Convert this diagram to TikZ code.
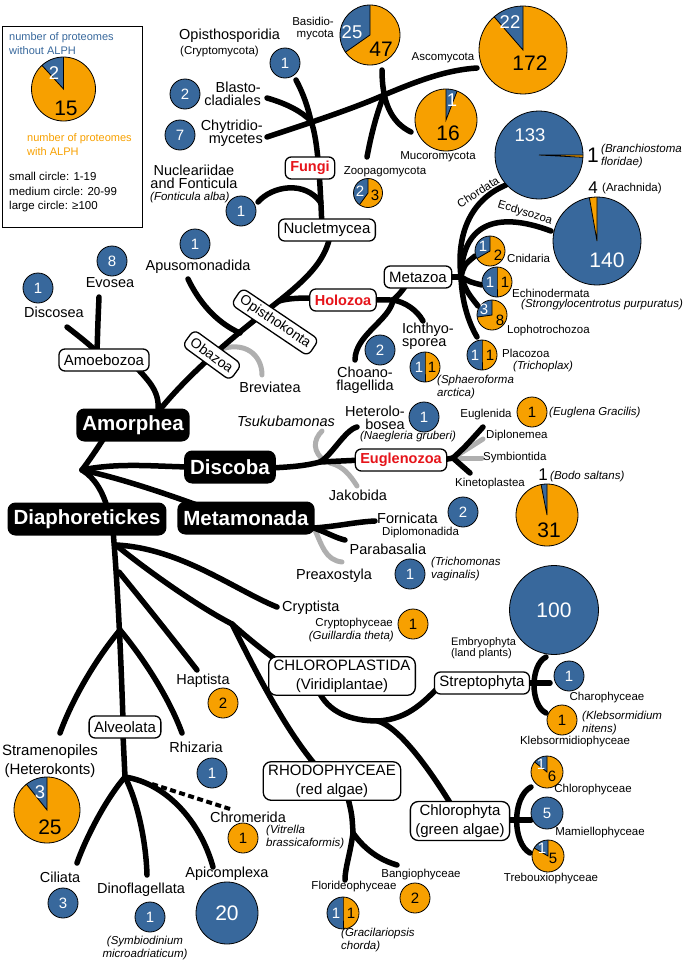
\documentclass[tikz,border=0pt]{standalone}
\usepackage{fontspec}
\setmainfont{Liberation Sans}
\usetikzlibrary{positioning}
\definecolor{pblue}{RGB}{56,104,156}
\definecolor{porange}{RGB}{247,160,0}
\definecolor{pgray}{RGB}{175,175,175}
\definecolor{pred}{RGB}{230,20,26}

\newcommand{\ppie}[5]{%
  \coordinate (#1) at (#2);
  \fill[porange] (#1) circle[radius=#3pt];
  \fill[pblue] (#1) -- ++(#4:#3pt) arc[start angle=#4, end angle=#5, radius=#3pt] -- cycle;
  \draw[pline] (#1) ++(#4:#3pt) -- (#1) -- ++(#5:#3pt);
  \draw[pline] (#1) circle[radius=#3pt];}
\newcommand{\bpie}[5]{%
  \coordinate (#1) at (#2);
  \fill[pblue] (#1) circle[radius=#3pt];
  \fill[porange] (#1) -- ++(#4:#3pt) arc[start angle=#4, end angle=#5, radius=#3pt] -- cycle;
  \draw[pline] (#1) ++(#4:#3pt) -- (#1) -- ++(#5:#3pt);
  \draw[pline] (#1) circle[radius=#3pt];}

\begin{document}
\begin{tikzpicture}[x=1pt, y=1pt,
  br/.style={line width=5.5pt, line cap=round},
  gbr/.style={line width=5pt, line cap=round, draw=pgray},
  pline/.style={line width=0.8pt},
  blk/.style={fill=black, text=white, rounded corners=8pt, inner xsep=6pt, minimum height=33pt, font=\bfseries\fontsize{20.5}{22}\selectfont},
  wbox/.style={draw, fill=white, line width=1.3pt, rounded corners=6pt, inner xsep=5pt, inner ysep=3pt, minimum height=22pt, align=center, font=\fontsize{15}{19}\selectfont},
  redt/.style={text=pred, font=\bfseries\fontsize{14.5}{16}\selectfont},
  lab/.style={inner sep=0pt, align=center, font=\fontsize{14.5}{13.5}\selectfont},
  slab/.style={inner sep=0pt, align=center, font=\fontsize{11.5}{12}\selectfont},
  ilab/.style={inner sep=0pt, font=\itshape\fontsize{11.5}{12.5}\selectfont},
  bc/.style={circle, draw, line width=0.8pt, fill=pblue, text=white, minimum size=30pt, inner sep=0pt, font=\fontsize{15}{15}\selectfont},
  oc/.style={bc, fill=porange, text=black},
  swnum/.style={inner sep=0pt, text=white, font=\fontsize{15}{15}\selectfont},
  sknum/.style={inner sep=0pt, font=\fontsize{15}{15}\selectfont},
  wnum/.style={inner sep=0pt, text=white, font=\fontsize{18.5}{18.5}\selectfont},
  knum/.style={inner sep=0pt, font=\fontsize{21}{21}\selectfont},
  onum/.style={inner sep=0pt, font=\fontsize{17}{17}\selectfont}]
\useasboundingbox (0,0) rectangle (685,-961);

\coordinate (jF) at (311,-121);
\coordinate (opisE) at (296,-80);
\coordinate (blaE) at (267,-98);
\coordinate (chyE) at (267,-137);
\coordinate (xF) at (384,-95);
\coordinate (ascE) at (477,-68);
\coordinate (basE) at (382,-70);
\coordinate (mucE) at (411,-132);
\coordinate (zooE) at (367,-157);
\coordinate (nucE) at (258,-202);
\coordinate (jN) at (321,-203);
\coordinate (nuclT) at (322,-228);
\coordinate (nuclB) at (330,-236);
\coordinate (amT) at (158,-412);
\coordinate (jOp) at (279,-301);
\coordinate (apuE) at (188,-279);
\coordinate (jApu) at (240,-333);
\coordinate (disE) at (67,-327);
\coordinate (evoE) at (99,-297);
\coordinate (jAmo) at (97,-352);
\coordinate (amoB) at (135,-366);
\coordinate (brevS) at (218,-350);
\coordinate (brevE) at (262,-375);
\coordinate (jHol) at (393,-300);
\coordinate (mzB) at (408,-282);
\coordinate (choE) at (355,-360);
\coordinate (ichE) at (423,-321);
\coordinate (mzE) at (452,-277);
\coordinate (jMz) at (461,-277);
\coordinate (chdE) at (506,-185);
\coordinate (ecdE) at (551,-231);
\coordinate (cniE) at (475,-256);
\coordinate (echE) at (482,-285);
\coordinate (lopE) at (478,-306);
\coordinate (plaE) at (477,-337);

\coordinate (root) at (82,-470);
\coordinate (amB) at (104,-438);
\coordinate (disW) at (195,-467);
\coordinate (metW) at (205,-508);
\coordinate (diaT) at (108,-510);
\coordinate (disE2) at (270,-468);
\coordinate (jDis) at (320,-462);
\coordinate (hetE) at (357,-427);
\coordinate (eugW) at (362,-460);
\coordinate (tsuS) at (326,-462);
\coordinate (tsuE) at (322,-431);
\coordinate (jakS) at (330,-463);
\coordinate (jakE) at (357,-486);
\coordinate (eugE) at (442,-460);
\coordinate (jEu) at (453,-458);
\coordinate (eglE) at (483,-427);
\coordinate (dipE) at (483,-439);
\coordinate (symE) at (482,-458);
\coordinate (kinE) at (470,-473);
\coordinate (jMt) at (314,-528);
\coordinate (forE) at (375,-521);
\coordinate (parE) at (345,-540);
\coordinate (preE) at (342,-562);

\coordinate (dT) at (113,-530);
\coordinate (alvT) at (123,-720);
\coordinate (jD1) at (116,-545);
\coordinate (cryE) at (277,-607);
\coordinate (jCR) at (232,-624);
\coordinate (chlT) at (282,-664);
\coordinate (rhoT) at (318,-768);
\coordinate (chlB) at (318,-690);
\coordinate (jCh) at (378,-721);
\coordinate (strW) at (442,-684);
\coordinate (chpT) at (452,-806);
\coordinate (jD2) at (119,-572);
\coordinate (hapE) at (197,-670);
\coordinate (jD3) at (120,-630);
\coordinate (straE) at (60,-733);
\coordinate (rhiE) at (182,-733);
\coordinate (alvB) at (123,-735);
\coordinate (jAl) at (125,-777);
\coordinate (cilE) at (77,-863);
\coordinate (dinE) at (147,-875);
\coordinate (apiE) at (213,-867);
\coordinate (chrS) at (152,-784);
\coordinate (chrE) at (230,-809);
\coordinate (rhoB) at (348,-798);
\coordinate (jRh) at (353,-833);
\coordinate (floE) at (345,-880);
\coordinate (banE) at (397,-865);
\coordinate (stE) at (525,-683);
\coordinate (sbM) at (550,-683);
\coordinate (sbT) at (546,-657);
\coordinate (sbB) at (546,-713);
\coordinate (cpE) at (508,-820);
\coordinate (cbM) at (531,-820);
\coordinate (cbT) at (531,-787);
\coordinate (cbB) at (530,-853);

\draw[gbr] (brevS) .. controls (245,-340) and (262,-355) .. (brevE);
\draw[gbr] (tsuS) .. controls (312,-452) and (313,-440) .. (tsuE);
\draw[gbr] (jakS) .. controls (343,-466) and (350,-475) .. (jakE);
\draw[gbr] (jEu) .. controls (468,-448) .. (dipE);
\draw[gbr] (jEu) -- (symE);
\draw[gbr] (jMt) .. controls (322,-545) and (325,-560) .. (preE);

\draw[br] (nuclT) .. controls (320,-180) and (318,-140) .. (jF);
\draw[br] (opisE) .. controls (304,-95) and (308,-108) .. (jF);
\draw[br] (blaE) .. controls (288,-104) and (302,-112) .. (jF);
\draw[br] (chyE) .. controls (300,-126) and (350,-110) .. (xF) .. controls (415,-82) and (445,-70) .. (ascE);
\draw[br] (basE) .. controls (382,-100) and (390,-122) .. (mucE);
\draw[br] (zooE) .. controls (372,-130) and (378,-110) .. (xF);
\draw[br] (nucE) .. controls (272,-186) and (305,-180) .. (jN);
\draw[br] (amT) .. controls (190,-372) and (235,-335) .. (jOp) .. controls (305,-280) and (325,-262) .. (nuclB);
\draw[br] (apuE) .. controls (198,-300) and (215,-322) .. (jApu);
\draw[br] (disE) .. controls (80,-337) and (90,-345) .. (jAmo);
\draw[br] (evoE) .. controls (98,-320) .. (jAmo);
\draw[br] (amoB) .. controls (150,-382) and (160,-392) .. (amT);
\draw[br] (jOp) .. controls (300,-295) and (330,-300) .. (jHol);
\draw[br] (jHol) .. controls (398,-296) and (403,-290) .. (mzB);
\draw[br] (jHol) .. controls (390,-320) and (355,-335) .. (choE);
\draw[br] (jHol) .. controls (405,-302) and (417,-310) .. (ichE);
\draw[br] (mzE) -- (jMz);
\draw[br] (jMz) .. controls (456,-235) and (470,-200) .. (chdE);
\draw[br] (jMz) .. controls (462,-225) and (495,-210) .. (ecdE);
\draw[br] (jMz) .. controls (464,-265) .. (cniE);
\draw[br] (jMz) .. controls (470,-282) .. (echE);
\draw[br] (jMz) .. controls (467,-292) .. (lopE);
\draw[br] (jMz) .. controls (462,-305) and (470,-325) .. (plaE);

\draw[br] (amB) .. controls (95,-452) and (88,-462) .. (root);
\draw[br] (root) .. controls (120,-462) and (160,-467) .. (disW);
\draw[br] (root) .. controls (120,-478) and (170,-495) .. (metW);
\draw[br] (root) .. controls (95,-478) and (103,-492) .. (diaT);
\draw[br] (disE2) .. controls (290,-467) and (305,-466) .. (jDis);
\draw[br] (jDis) .. controls (332,-455) and (345,-430) .. (hetE);
\draw[br] (jDis) -- (eugW);
\draw[br] (eugE) -- (jEu);
\draw[br] (jEu) .. controls (465,-447) .. (eglE);
\draw[br] (jEu) .. controls (462,-466) .. (kinE);
\draw[br] (jMt) .. controls (340,-526) and (355,-522) .. (forE);
\draw[br] (jMt) .. controls (328,-533) and (336,-538) .. (parE);

\draw[br] (dT) .. controls (118,-590) and (121,-660) .. (alvT);
\draw[br] (jD1) .. controls (180,-548) and (235,-590) .. (cryE);
\draw[br] (jD1) .. controls (140,-565) and (195,-605) .. (jCR);
\draw[br] (jCR) .. controls (250,-640) and (265,-652) .. (chlT);
\draw[br] (jCR) .. controls (255,-670) and (285,-730) .. (rhoT);
\draw[br] (chlB) .. controls (328,-712) and (350,-721) .. (jCh);
\draw[br] (jCh) .. controls (410,-719) and (425,-700) .. (strW);
\draw[br] (jCh) .. controls (400,-728) and (430,-770) .. (chpT);
\draw[br] (jD2) .. controls (150,-610) and (180,-648) .. (hapE);
\draw[br] (jD3) .. controls (95,-660) and (72,-700) .. (straE);
\draw[br] (jD3) .. controls (145,-660) and (170,-700) .. (rhiE);
\draw[br] (alvB) -- (jAl);
\draw[br] (jAl) .. controls (105,-800) and (85,-840) .. (cilE);
\draw[br] (jAl) .. controls (137,-800) and (146,-840) .. (dinE);
\draw[br] (jAl) .. controls (165,-783) and (200,-820) .. (apiE);
\draw[line width=4pt, dash pattern=on 6pt off 3.5pt] (chrS) -- (chrE);
\draw[br] (rhoB) .. controls (352,-815) .. (jRh);
\draw[br] (jRh) .. controls (350,-855) and (345,-868) .. (floE);
\draw[br] (jRh) .. controls (365,-850) and (380,-860) .. (banE);
\draw[br] (stE) -- (sbM);
\draw[br] (sbT) .. controls (530,-665) and (530,-705) .. (sbB);
\draw[br] (cpE) -- (cbM);
\draw[br] (cbT) .. controls (512,-797) and (512,-843) .. (cbB);

\node[draw, line width=1pt, minimum width=140pt, minimum height=201pt, inner sep=0pt] (legend) at (72,-126.5) {};
\node[anchor=west, inner sep=0pt, align=left, text=pblue, font=\fontsize{11}{14}\selectfont] (lgNo) at (9,-44) {number of proteomes\\without ALPH};
\ppie{lgPie}{63.5,-89}{32}{90}{132.4}
\node[wnum] (lgN1) at (54,-73) {2};
\node[knum] (lgN2) at (66,-108) {15};
\node[anchor=west, inner sep=0pt, align=left, text=porange, font=\fontsize{11}{14}\selectfont] (lgYes) at (27,-145) {number of proteomes\\with ALPH};
\node[anchor=west, inner sep=0pt, align=left, font=\fontsize{11.5}{14.5}\selectfont] (lgSize) at (9,-192.5) {small circle: 1-19\\medium circle: 20-99\\large circle: ≥100};

\node[lab, anchor=west] (opisL) at (179,-36) {Opisthosporidia};
\node[slab, anchor=west] (opisS) at (180,-52) {(Cryptomycota)};
\node[bc] (cOpis) at (285,-63) {1};
\node[lab, anchor=east, align=right] (blaL) at (261,-94) {Blasto-\\cladiales};
\node[bc] (cBla) at (185,-94) {2};
\node[lab, anchor=east, align=right] (chyL) at (263,-133) {Chytridio-\\mycetes};
\node[bc] (cChy) at (180,-135) {7};
\node[lab] (nucL) at (194,-177) {Nucleariidae\\and Fonticula};
\node[ilab, anchor=west] (nucS) at (150,-198) {(Fonticula alba)};
\node[bc] (cNuc) at (241,-211) {1};
\node[slab, anchor=east, align=right] (basL) at (334,-29) {Basidio-\\mycota};
\ppie{basP}{370,-35}{30}{90}{215}
\node[wnum] (basN1) at (352,-32) {25};
\node[knum] (basN2) at (381,-49) {47};
\node[slab] (ascL) at (443,-58) {Ascomycota};
\ppie{ascP}{523,-50}{44}{90}{131}
\node[wnum] (ascN1) at (510,-22) {22};
\node[knum] (ascN2) at (530,-63) {172};
\ppie{mucP}{446,-120}{31}{69}{90}
\node[wnum] (mucN1) at (452,-100) {1};
\node[knum] (mucN2) at (448,-133) {16};
\node[slab] (mucL) at (438,-157) {Mucoromycota};
\node[slab] (zooL) at (385,-172) {Zoopagomycota};
\ppie{zooP}{368,-193}{14.5}{90}{234}
\node[swnum] (zooN1) at (360,-191) {2};
\node[sknum] (zooN2) at (375,-195) {3};
\node[wbox, redt] (Fungi) at (310,-168) {Fungi};
\node[wbox] (Nucletmycea) at (327,-230) {Nucletmycea};

\node[bc] (cApu) at (195,-244) {1};
\node[lab] (apuL) at (198,-267) {Apusomonadida};
\node[bc] (cDis) at (38,-288) {1};
\node[lab] (disL) at (54,-312) {Discosea};
\node[bc] (cEvo) at (112,-261) {8};
\node[lab] (evoL) at (110,-283) {Evosea};
\node[wbox] (Amoebozoa) at (104,-360) {Amoebozoa};
\node[wbox, rotate=-36, minimum height=20pt, font=\fontsize{14}{14}\selectfont] (Obazoa) at (212,-355) {Obazoa};
\node[wbox, rotate=-34, minimum height=20pt, font=\fontsize{14}{14}\selectfont] (Opisthokonta) at (275,-322) {Opisthokonta};
\node[lab] (brevL) at (270,-387) {Breviatea};
\node[wbox, redt] (Holozoa) at (343,-300) {Holozoa};
\node[wbox] (Metazoa) at (418,-277) {Metazoa};
\node[bc] (cCho) at (380,-350) {2};
\node[lab] (choL) at (365,-380) {Choano-\\flagellida};
\node[lab, anchor=west, align=left] (ichL) at (402,-336) {Ichthyo-\\sporea};
\ppie{ichP}{425,-367}{15}{90}{270}
\node[swnum] (ichN1) at (419,-367) {1};
\node[sknum] (ichN2) at (432,-367) {1};
\node[ilab, anchor=west, align=left] (ichS) at (437,-387) {(Sphaeroforma\\arctica)};

\node[slab, rotate=33] (chdL) at (478,-192) {Chordata};
\node[slab, rotate=-17] (ecdL) at (525,-213) {Ecdysozoa};
\bpie{chdP}{539,-155}{44}{-3}{0}
\node[wnum] (chdN1) at (530,-135) {133};
\node[knum] (chdN2) at (593,-155) {1};
\node[ilab, anchor=west, align=left] (chdS) at (601,-156) {(Branchiostoma\\floridae)};
\bpie{ecdP}{597,-241}{44}{90}{100}
\node[wnum, font=\fontsize{21}{21}\selectfont] (ecdN1) at (607,-260) {140};
\node[onum] (ecdN2) at (593,-188) {4};
\node[slab, anchor=west] (ecdS) at (602,-189) {(Arachnida)};
\ppie{cniP}{490,-251}{15}{90}{210}
\node[swnum] (cniN1) at (483,-246) {1};
\node[sknum] (cniN2) at (498,-255) {2};
\node[slab, anchor=west] (cniL) at (507,-258) {Cnidaria};
\ppie{echP}{497,-282}{15}{90}{270}
\node[swnum] (echN1) at (490,-282) {1};
\node[sknum] (echN2) at (505,-282) {1};
\node[slab, anchor=west] (echL) at (512,-293) {Echinodermata};
\node[ilab, anchor=west] (echS) at (521,-305) {(Strongylocentrotus purpuratus)};
\ppie{lopP}{492,-315}{15}{90}{188}
\node[swnum] (lopN1) at (484,-309) {3};
\node[sknum] (lopN2) at (500,-320) {8};
\node[slab, anchor=west] (lopL) at (507,-331) {Lophotrochozoa};
\ppie{plaP}{482,-355}{15}{90}{270}
\node[swnum] (plaN1) at (475,-355) {1};
\node[sknum] (plaN2) at (490,-355) {1};
\node[slab, anchor=west] (plaL) at (502,-353) {Placozoa};
\node[ilab, anchor=west] (plaS) at (513,-367) {(Trichoplax)};

\node[blk] (Amorphea) at (133,-425) {Amorphea};
\node[blk] (Discoba) at (230,-467) {Discoba};
\node[blk] (Metamonada) at (246,-518) {Metamonada};
\node[blk] (Diaphoretickes) at (87,-519) {Diaphoretickes};

\node[lab, font=\itshape\fontsize{14.5}{14}\selectfont] (tsuL) at (286,-421) {Tsukubamonas};
\node[lab, anchor=east, align=right] (hetL) at (405,-418) {Heterolo-\\bosea};
\node[bc] (cHet) at (424,-417) {1};
\node[ilab] (hetS) at (408,-437) {(Naegleria gruberi)};
\node[lab] (jakL) at (358,-495) {Jakobida};
\node[wbox, redt] (Euglenozoa) at (401,-460) {Euglenozoa};
\node[slab] (eglL) at (486,-415) {Euglenida};
\node[oc] (cEgl) at (532,-412) {1};
\node[ilab, anchor=west] (eglS) at (549,-413) {(Euglena Gracilis)};
\node[slab, anchor=west] (dipL) at (486,-436) {Diplonemea};
\node[slab, anchor=west] (symL) at (483,-458) {Symbiontida};
\node[slab] (kinL) at (490,-484) {Kinetoplastea};
\ppie{bodP}{547,-515}{31}{90}{101}
\node[onum] (bodN1) at (543,-475) {1};
\node[ilab, anchor=west] (bodS) at (550,-477) {(Bodo saltans)};
\node[knum] (bodN2) at (549,-530) {31};

\node[lab, anchor=west] (forL) at (377,-518) {Fornicata};
\node[bc] (cFor) at (463,-512) {2};
\node[slab, anchor=west] (dmnL) at (382,-533) {Diplomonadida};
\node[lab] (parL) at (388,-549) {Parabasalia};
\node[lab] (preL) at (334,-576) {Preaxostyla};
\node[bc] (cTri) at (410,-574) {1};
\node[ilab, anchor=west, align=left] (triS) at (431,-569) {(Trichomonas\\vaginalis)};

\node[lab, anchor=west] (cryL) at (282,-608) {Cryptista};
\node[slab, anchor=east] (cpyL) at (393,-624) {Cryptophyceae};
\node[ilab, anchor=east] (cpyS) at (394,-637) {(Guillardia theta)};
\node[oc] (cCry) at (413,-624) {1};
\node[wbox, rounded corners=8pt] (Chloroplastida) at (342,-676) {CHLOROPLASTIDA\\(Viridiplantae)};
\node[bc, minimum size=89pt, font=\fontsize{21}{21}\selectfont] (cEmb) at (554,-610) {100};
\node[slab, anchor=west, align=left, font=\fontsize{11}{11}\selectfont] (embL) at (451,-648) {Embryophyta\\(land plants)};
\node[wbox] (Streptophyta) at (482,-683) {Streptophyta};
\node[bc] (cCha) at (569,-676) {1};
\node[slab] (chaL) at (607,-698) {Charophyceae};
\node[oc] (cKle) at (562,-720) {1};
\node[ilab, anchor=west, align=left] (kleS) at (582,-723) {(Klebsormidium\\nitens)};
\node[slab] (kleL) at (575,-742) {Klebsormidiophyceae};
\node[wbox, rounded corners=8pt] (Chlorophyta) at (460,-821) {Chlorophyta\\(green algae)};
\ppie{chpP}{547,-772}{16}{90}{141}
\node[swnum] (chpN1) at (541,-764) {1};
\node[sknum] (chpN2) at (552,-776) {6};
\node[slab] (chpL) at (593,-790) {Chlorophyceae};
\node[bc, minimum size=32pt] (cMam) at (547,-813) {5};
\node[slab] (mamL) at (600,-833) {Mamiellophyceae};
\ppie{treP}{548,-856}{16}{90}{150}
\node[swnum] (treN1) at (542,-848) {1};
\node[sknum] (treN2) at (553,-858) {5};
\node[slab] (treL) at (551,-879) {Trebouxiophyceae};
\node[wbox, rounded corners=8pt] (Rhodophyceae) at (332,-781) {RHODOPHYCEAE\\(red algae)};
\node[slab] (floL) at (354,-887) {Florideophyceae};
\ppie{floP}{343,-913}{16}{90}{270}
\node[swnum] (floN1) at (336,-913) {1};
\node[sknum] (floN2) at (351,-913) {1};
\node[ilab, anchor=west, align=left] (graS) at (341,-940) {(Gracilariopsis\\chorda)};
\node[slab] (banL) at (421,-875) {Bangiophyceae};
\node[oc] (cBan) at (415,-898) {2};
\node[lab] (hapL) at (203,-681) {Haptista};
\node[oc] (cHap) at (223,-703) {2};
\node[lab, font=\fontsize{15}{19}\selectfont] (straL) at (50,-761) {Stramenopiles\\(Heterokonts)};
\ppie{straP}{47,-810}{33}{90}{128.6}
\node[wnum] (straN1) at (40,-792) {3};
\node[knum] (straN2) at (50,-827) {25};
\node[lab] (rhiL) at (196,-747) {Rhizaria};
\node[bc] (cRhi) at (212,-773) {1};
\node[wbox] (Alveolata) at (125,-727) {Alveolata};
\node[lab] (chrL) at (248,-817) {Chromerida};
\node[oc] (cChr) at (243,-838) {1};
\node[ilab, anchor=west, align=left] (vitS) at (266,-837) {(Vitrella\\brassicaformis)};
\node[lab] (cilL) at (60,-877) {Ciliata};
\node[bc] (cCil) at (63,-903) {3};
\node[lab] (dinL) at (141,-890) {Dinoflagellata};
\node[bc] (cDin) at (150,-917) {1};
\node[ilab, align=center] (symS) at (145,-948) {(Symbiodinium\\microadriaticum)};
\node[lab] (apiL) at (227,-874) {Apicomplexa};
\node[bc, minimum size=62pt, font=\fontsize{21}{21}\selectfont] (cApi) at (227,-913) {20};
\end{tikzpicture}
\end{document}
